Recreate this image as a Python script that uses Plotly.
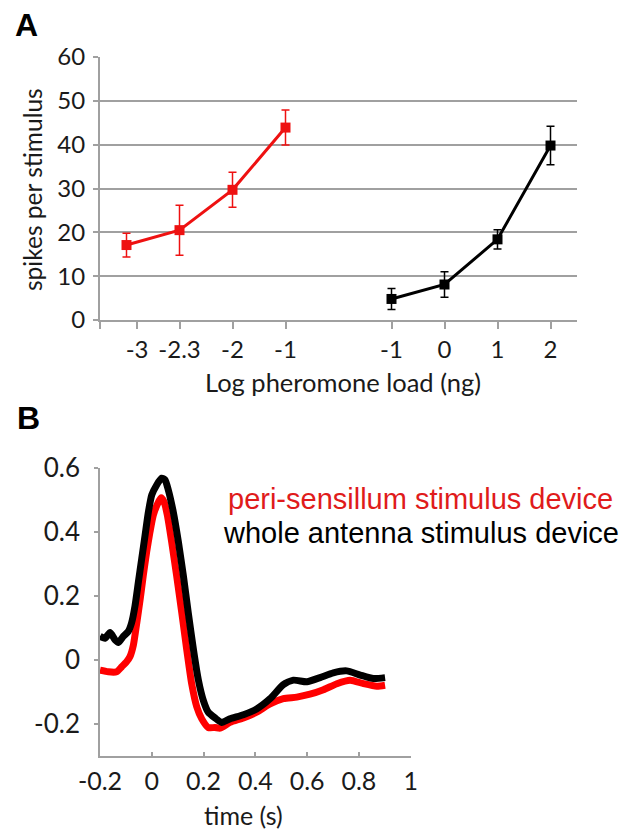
import plotly.graph_objects as go

# ---------------- Panel A data ----------------
red_labels = ["-3", "-2.3", "-2", "-1"]
red_slots = [0.5, 1.5, 2.5, 3.5]
red_spikes = [17.1, 20.5, 29.7, 43.9]
red_err = [2.7, 5.7, 4.0, 4.0]

black_labels = ["-1", "0", "1", "2"]
black_slots = [5.5, 6.5, 7.5, 8.5]
black_spikes = [4.8, 8.1, 18.4, 39.8]
black_err = [2.4, 2.9, 2.2, 4.4]

a_tickvals = [0, 0.7, 1.5, 2.5, 3.5, 5.5, 6.5, 7.5, 8.5]
a_ticktext = [""] + red_labels + black_labels

# ---------------- Panel B data ----------------
black_t = [-0.2, -0.181, -0.161, -0.142, -0.129, -0.110, -0.091, -0.078, -0.065, -0.052,
           -0.039, -0.026, -0.013, 0.0, 0.019, 0.038, 0.051, 0.064, 0.083, 0.103,
           0.122, 0.141, 0.161, 0.180, 0.199, 0.218, 0.244, 0.270, 0.302, 0.354,
           0.405, 0.457, 0.508, 0.547, 0.599, 0.650, 0.701, 0.753, 0.805, 0.856, 0.901]
black_v = [0.074, 0.068, 0.086, 0.063, 0.055, 0.074, 0.089, 0.116, 0.168, 0.242,
           0.316, 0.389, 0.463, 0.516, 0.547, 0.568, 0.563, 0.531, 0.463, 0.368,
           0.263, 0.147, 0.032, -0.063, -0.126, -0.163, -0.181, -0.195, -0.184, -0.171,
           -0.153, -0.121, -0.077, -0.063, -0.068, -0.055, -0.040, -0.034, -0.047, -0.058, -0.055]

red_t = [-0.2, -0.168, -0.136, -0.116, -0.097, -0.084, -0.071, -0.058, -0.045, -0.033,
         -0.020, -0.007, 0.006, 0.023, 0.036, 0.047, 0.060, 0.077, 0.096, 0.116,
         0.135, 0.154, 0.174, 0.193, 0.218, 0.244, 0.264, 0.302, 0.354, 0.405,
         0.457, 0.508, 0.560, 0.611, 0.663, 0.715, 0.766, 0.818, 0.869, 0.901]
red_v = [-0.032, -0.037, -0.037, -0.021, -0.005, 0.011, 0.047, 0.116, 0.189, 0.263,
         0.337, 0.400, 0.453, 0.489, 0.507, 0.495, 0.453, 0.368, 0.263, 0.147,
         0.032, -0.074, -0.147, -0.184, -0.211, -0.211, -0.213, -0.195, -0.181, -0.163,
         -0.137, -0.121, -0.116, -0.107, -0.093, -0.074, -0.063, -0.074, -0.082, -0.079]

b_tickvals_x = [-0.2, 0, 0.2, 0.4, 0.6, 0.8, 1]
b_ticktext_x = ["-0.2", "0", "0.2", "0.4", "0.6", "0.8", "1"]
b_tickvals_y = [-0.2, 0, 0.2, 0.4, 0.6]
b_ticktext_y = ["-0.2", "0", "0.2", "0.4", "0.6"]

RED = "#ee1111"
BLACK = "#000000"
GRAY = "#a0a0a0"
FONT = "Lato"
TXT = "#1a1a1a"

fig = go.Figure()

# Panel A
fig.add_trace(go.Scatter(
    x=red_slots, y=red_spikes, mode="lines+markers",
    line=dict(color=RED, width=3),
    marker=dict(symbol="square", size=10, color=RED),
    error_y=dict(type="data", array=red_err, color=RED, thickness=1.5, width=4),
    xaxis="x", yaxis="y", showlegend=False))
fig.add_trace(go.Scatter(
    x=black_slots, y=black_spikes, mode="lines+markers",
    line=dict(color=BLACK, width=3),
    marker=dict(symbol="square", size=10, color=BLACK),
    error_y=dict(type="data", array=black_err, color=BLACK, thickness=1.5, width=4),
    xaxis="x", yaxis="y", showlegend=False))

# Panel B
fig.add_trace(go.Scatter(
    x=red_t, y=red_v, mode="lines", line=dict(color="#ff0000", width=7, shape="spline", smoothing=0.6),
    xaxis="x2", yaxis="y2", showlegend=False))
fig.add_trace(go.Scatter(
    x=black_t, y=black_v, mode="lines", line=dict(color=BLACK, width=7, shape="spline", smoothing=0.6),
    xaxis="x2", yaxis="y2", showlegend=False))

W, H = 625, 832


def px_x(p):
    return p / W


def px_y(p):
    return 1 - p / H


fig.update_layout(
    template="none",
    width=W, height=H,
    margin=dict(l=0, r=0, t=0, b=0, pad=0),
    paper_bgcolor="white", plot_bgcolor="white",
    font=dict(family=FONT, size=24, color=TXT),
    xaxis=dict(
        domain=[px_x(100), px_x(577)], anchor="y", range=[0, 9], automargin=False,
        tickmode="array", tickvals=a_tickvals, ticktext=a_ticktext,
        showline=True, linecolor=GRAY, linewidth=2,
        ticks="outside", ticklen=7, tickwidth=2, tickcolor=GRAY,
        showgrid=False, zeroline=False,
        tickfont=dict(family=FONT, size=24, color=TXT),
    ),
    yaxis=dict(
        domain=[px_y(320), px_y(57)], anchor="x", range=[0, 60], automargin=False,
        tickmode="linear", tick0=0, dtick=10,
        showline=True, linecolor=GRAY, linewidth=2,
        ticks="outside", ticklen=5, tickwidth=2, tickcolor=GRAY,
        ticklabelstandoff=3,
        showgrid=True, gridcolor=GRAY, gridwidth=2, zeroline=False,
        tickfont=dict(family=FONT, size=24, color=TXT),
    ),
    xaxis2=dict(
        domain=[px_x(100), px_x(410.7)], anchor="y2", range=[-0.2, 1], automargin=False,
        tickmode="array", tickvals=b_tickvals_x, ticktext=b_ticktext_x,
        showline=True, linecolor=GRAY, linewidth=1.5,
        ticks="inside", ticklen=4, tickwidth=1.5, tickcolor=GRAY,
        ticklabelstandoff=2,
        showgrid=False, zeroline=False,
        tickfont=dict(family=FONT, size=25, color=TXT),
    ),
    yaxis2=dict(
        domain=[px_y(756), px_y(468)], anchor="x2", range=[-0.3, 0.6], automargin=False,
        tickmode="array", tickvals=b_tickvals_y, ticktext=b_ticktext_y,
        showline=True, linecolor=GRAY, linewidth=1.5,
        ticks="outside", ticklen=4, tickwidth=1.5, tickcolor=GRAY,
        ticklabelstandoff=9,
        showgrid=False, zeroline=False,
        tickfont=dict(family=FONT, size=26, color=TXT),
    ),
    annotations=[
        dict(text="<b>A</b>", x=px_x(13), y=px_y(25), xref="paper", yref="paper",
             xanchor="left", yanchor="middle", showarrow=False,
             font=dict(family="Liberation Sans", size=32, color="black")),
        dict(text="<b>B</b>", x=px_x(15), y=px_y(418), xref="paper", yref="paper",
             xanchor="left", yanchor="middle", showarrow=False,
             font=dict(family="Liberation Sans", size=32, color="black")),
        dict(text="spikes per stimulus", x=px_x(33), y=px_y(190), xref="paper", yref="paper",
             xanchor="center", yanchor="middle", textangle=-90, showarrow=False,
             font=dict(family=FONT, size=24.5, color=TXT)),
        dict(text="Log pheromone load (ng)", x=px_x(343), y=px_y(382), xref="paper", yref="paper",
             xanchor="center", yanchor="middle", showarrow=False,
             font=dict(family=FONT, size=25.5, color=TXT)),
        dict(text="time (s)", x=px_x(243), y=px_y(815), xref="paper", yref="paper",
             xanchor="center", yanchor="middle", showarrow=False,
             font=dict(family=FONT, size=25, color=TXT)),
        dict(text="peri-sensillum stimulus device", x=px_x(226), y=px_y(499), xref="paper", yref="paper",
             xanchor="left", yanchor="middle", showarrow=False,
             font=dict(family="Liberation Sans", size=29, color="#e01b1b")),
        dict(text="whole antenna stimulus device", x=px_x(221), y=px_y(533), xref="paper", yref="paper",
             xanchor="left", yanchor="middle", showarrow=False,
             font=dict(family="Liberation Sans", size=29, color="black")),
    ],
)

fig.write_html("out.html")
